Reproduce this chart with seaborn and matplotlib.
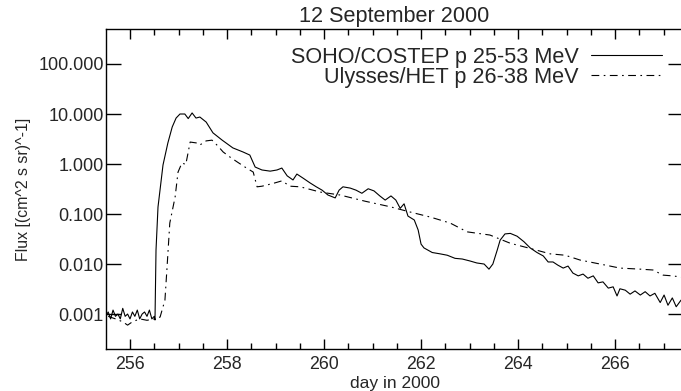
import numpy as np
import pandas as pd
import matplotlib
matplotlib.use("Agg")
import matplotlib.pyplot as plt
from matplotlib.ticker import FixedLocator, MultipleLocator, FormatStrFormatter
import seaborn as sns

title = "12 September 2000"
xlabel = "day in 2000"
ylabel = "Flux [(cm^2 s sr)^-1]"
soho_label = "SOHO/COSTEP p 25-53 MeV"
uly_label = "Ulysses/HET p 26-38 MeV"

soho_day = [255.50, 255.55, 255.60, 255.65, 255.70, 255.75, 255.80, 255.85, 255.90, 255.95,
            256.00, 256.05, 256.10, 256.15, 256.20, 256.25, 256.30, 256.35, 256.40, 256.45,
            256.50, 256.515, 256.536, 256.577, 256.68, 256.78, 256.87, 256.95, 257.03, 257.13,
            257.20, 257.28, 257.36, 257.44, 257.57, 257.71, 257.90, 258.12, 258.33, 258.47,
            258.58, 258.72, 258.89, 259.03, 259.13, 259.24, 259.36, 259.44, 259.57, 259.71,
            259.84, 259.96, 260.08, 260.23, 260.31, 260.39, 260.54, 260.66, 260.78, 260.91,
            261.03, 261.15, 261.26, 261.38, 261.48, 261.57, 261.65, 261.73, 261.86, 261.94,
            262.00, 262.06, 262.23, 262.39, 262.54, 262.70, 262.85, 263.01, 263.15, 263.30,
            263.40, 263.48, 263.57, 263.63, 263.73, 263.84, 263.98, 264.12, 264.25, 264.39,
            264.52, 264.62, 264.72, 264.82, 264.93, 265.03, 265.13, 265.24, 265.34, 265.44,
            265.55, 265.65, 265.75, 265.86, 265.96, 266.04, 266.10, 266.21, 266.31, 266.41,
            266.52, 266.62, 266.72, 266.82, 266.93, 267.01, 267.09, 267.18, 267.26, 267.36]
soho_flux = [0.0009, 0.0011, 0.0008, 0.0012, 0.0009, 0.0010, 0.0008, 0.0013, 0.0009, 0.0010,
             0.0008, 0.0011, 0.0009, 0.0012, 0.0008, 0.0010, 0.0011, 0.0009, 0.0012, 0.0008,
             0.0009, 0.00076, 0.019, 0.138, 0.955, 2.63, 5.5, 8.3, 10.0, 10.0,
             8.1, 10.5, 8.3, 8.7, 6.9, 4.2, 3.0, 2.1, 1.74, 1.51,
             0.87, 0.76, 0.72, 0.76, 0.83, 0.58, 0.48, 0.63, 0.52, 0.42,
             0.35, 0.30, 0.24, 0.21, 0.30, 0.35, 0.33, 0.30, 0.26, 0.32,
             0.29, 0.23, 0.19, 0.23, 0.19, 0.13, 0.16, 0.091, 0.076, 0.048,
             0.025, 0.021, 0.017, 0.016, 0.015, 0.013, 0.0126, 0.0115, 0.0105, 0.0100,
             0.0079, 0.0100, 0.019, 0.030, 0.040, 0.041, 0.036, 0.028, 0.021, 0.017,
             0.0145, 0.011, 0.011, 0.0095, 0.0083, 0.0091, 0.0066, 0.0058, 0.0063, 0.0052,
             0.0058, 0.0042, 0.0044, 0.0033, 0.0035, 0.0023, 0.0032, 0.0030, 0.0025, 0.0029,
             0.0024, 0.0028, 0.0023, 0.0026, 0.0017, 0.0024, 0.0015, 0.0021, 0.0014, 0.0019]

uly_day = [255.55, 255.70, 255.85, 255.95, 256.05, 256.20, 256.35, 256.50, 256.62, 256.72,
           256.76, 256.82, 256.93, 256.99, 257.07, 257.15, 257.24, 257.38, 257.44, 257.57,
           257.69, 257.81, 257.92, 258.06, 258.21, 258.37, 258.54, 258.62, 258.72, 258.82,
           258.99, 259.13, 259.30, 259.51, 259.92, 260.33, 260.85, 261.36, 261.77, 262.19,
           262.60, 262.95, 263.42, 263.84, 264.21, 264.66, 264.97, 265.28, 265.69, 266.10,
           266.52, 266.78, 266.99, 267.18, 267.36]
uly_flux = [0.0009, 0.0008, 0.0007, 0.0006, 0.0007, 0.0008, 0.00075, 0.0008, 0.00087, 0.0019,
            0.0076, 0.066, 0.22, 0.69, 1.05, 0.98, 2.75, 2.63, 2.4, 2.9,
            3.0, 2.3, 1.74, 1.38, 1.1, 0.87, 0.69, 0.35, 0.36, 0.38,
            0.42, 0.46, 0.36, 0.35, 0.275, 0.24, 0.18, 0.14, 0.11, 0.087,
            0.066, 0.044, 0.038, 0.026, 0.021, 0.016, 0.015, 0.012, 0.010, 0.0083,
            0.0079, 0.0076, 0.0060, 0.0058, 0.0055]

yticks = [0.001, 0.01, 0.1, 1.0, 10.0, 100.0]

sns.set_style("white")
plt.rcParams['font.family'] = ['Liberation Sans', 'DejaVu Sans']

soho = pd.DataFrame({"day": soho_day, "flux": soho_flux})
uly = pd.DataFrame({"day": uly_day, "flux": uly_flux})

fig = plt.figure(figsize=(6.81, 3.91), dpi=100)
ax = fig.add_axes([106/681, 42/391, 577/681, 320/391])

sns.lineplot(data=soho, x="day", y="flux", ax=ax, color="black", linewidth=0.8,
             label=soho_label, estimator=None, sort=False)
sns.lineplot(data=uly, x="day", y="flux", ax=ax, color="black", linewidth=0.8,
             linestyle=(0, (7, 4, 1.5, 4)), label=uly_label, estimator=None, sort=False)

ax.set_yscale("log")
ax.set_xlim(255.505, 267.40)
ax.set_ylim(2.0e-4, 501)
ax.yaxis.set_major_locator(FixedLocator(yticks))
ax.yaxis.set_minor_locator(FixedLocator([]))
ax.yaxis.set_major_formatter(FormatStrFormatter("%.3f"))
ax.xaxis.set_major_locator(MultipleLocator(2))
ax.xaxis.set_minor_locator(MultipleLocator(0.5))
ax.xaxis.set_major_formatter(FormatStrFormatter("%d"))

ax.tick_params(axis="x", which="major", direction="in", length=7, width=1,
               top=True, bottom=True, labelsize=12.8, pad=5, color="black")
ax.tick_params(axis="x", which="minor", direction="in", length=4, width=1,
               top=True, bottom=True, color="black")
ax.tick_params(axis="y", which="major", direction="in", length=11, width=1,
               left=True, right=True, labelsize=13, pad=1.5, color="black")

for s in ax.spines.values():
    s.set_color("black")
    s.set_linewidth(1.0)

ax.set_xlabel(xlabel, fontsize=12.5, labelpad=2)
ax.set_ylabel(ylabel, fontsize=11.4, labelpad=5)
ax.set_title(title, fontsize=15.6, pad=5)

leg = ax.legend(loc="upper right", bbox_to_anchor=(662/681, 1 - 47/391),
                bbox_transform=fig.transFigure, frameon=False, markerfirst=False,
                fontsize=15.6, handlelength=3.3, handletextpad=0.55,
                labelspacing=-0.05, borderpad=0, borderaxespad=0)

fig.savefig("out.png", dpi=100)
